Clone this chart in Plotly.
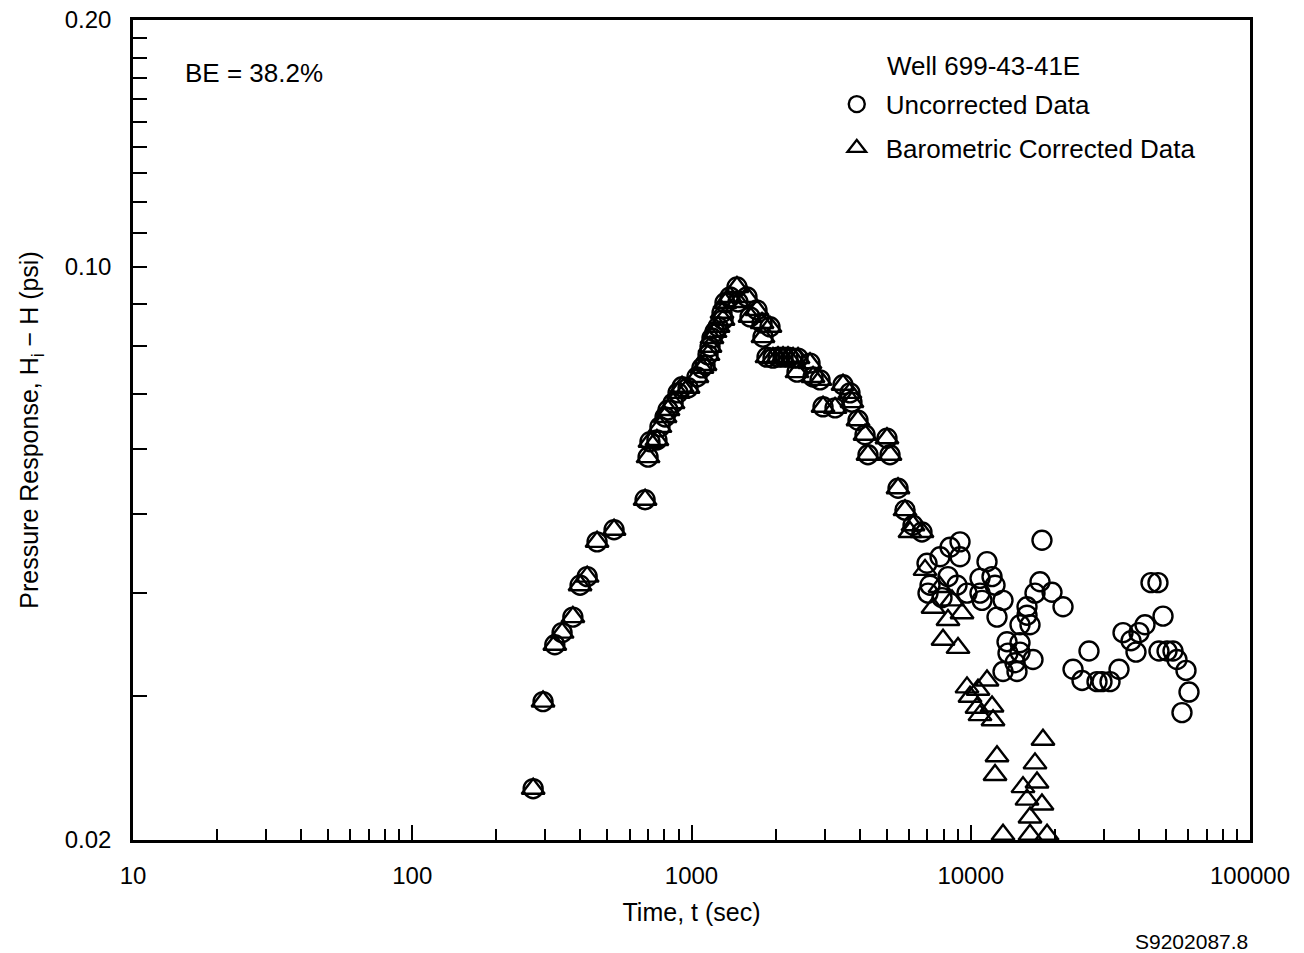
import plotly.graph_objects as go

# Shared early-time response (both series coincide before ~7000 s)
t_early = [271, 294, 324, 344, 376, 399, 423, 459, 528, 682,
           699, 710, 752, 771, 804, 824, 859, 895, 925, 972,
           1046, 1090, 1118, 1146, 1165, 1184, 1214, 1245, 1286, 1297,
           1318, 1374, 1455, 1467, 1580, 1620, 1716, 1789, 1803, 1864,
           1910, 1958, 2041, 2127, 2216, 2310, 2387, 2407, 2657, 2724,
           2885, 2958, 3266, 3488, 3694, 3755, 3947, 4182, 4286, 5012,
           5139, 5490, 5815, 6212, 6689]
p_early = [0.0231, 0.0295, 0.0346, 0.0358, 0.0374, 0.0409, 0.0419, 0.0462, 0.0478, 0.0520,
           0.0586, 0.0612, 0.0615, 0.0638, 0.0656, 0.0669, 0.0682, 0.0702, 0.0714, 0.0712,
           0.0734, 0.0753, 0.0759, 0.0781, 0.0799, 0.0819, 0.0833, 0.0845, 0.0879, 0.0862,
           0.0904, 0.0919, 0.0945, 0.0906, 0.0919, 0.0869, 0.0886, 0.0854, 0.0821, 0.0776,
           0.0845, 0.0774, 0.0776, 0.0776, 0.0776, 0.0774, 0.0744, 0.0774, 0.0763, 0.0734,
           0.0728, 0.0675, 0.0673, 0.0718, 0.0702, 0.0684, 0.0650, 0.0624, 0.0590, 0.0618,
           0.0590, 0.0537, 0.0505, 0.0484, 0.0475]

# Late-time uncorrected data
t_unc_late = [6973, 7030, 7147, 7762, 7891, 8289, 8427, 8930, 9153, 9153,
              9696, 10793, 10793, 10973, 11435, 11917, 12217, 12417, 13048, 13048,
              13485, 13597, 14404, 14643, 15010, 15010, 15010, 15901, 15901, 16300,
              16709, 16985, 17700, 17990, 19540, 21400, 23240, 25030, 26510, 28320,
              29510, 31530, 33960, 35100, 37490, 39060, 40040, 42070, 44210, 46820,
              47210, 48810, 50460, 53000, 54770, 57070, 58990, 60470]
p_unc_late = [0.0435, 0.0400, 0.0409, 0.0443, 0.0395, 0.0419, 0.0455, 0.0409, 0.0462, 0.0443,
              0.0400, 0.0400, 0.0417, 0.0392, 0.0437, 0.0419, 0.0409, 0.0374, 0.0392, 0.0321,
              0.0349, 0.0338, 0.0329, 0.0321, 0.0366, 0.0348, 0.0339, 0.0385, 0.0376, 0.0366,
              0.0332, 0.0400, 0.0413, 0.0464, 0.0401, 0.0385, 0.0323, 0.0313, 0.0340, 0.0312,
              0.0312, 0.0312, 0.0323, 0.0358, 0.0350, 0.0339, 0.0358, 0.0366, 0.0412, 0.0412,
              0.0340, 0.0375, 0.0340, 0.0340, 0.0332, 0.0286, 0.0322, 0.0303]

# Late-time barometric corrected data
t_cor_late = [6060, 6859, 7326, 7762, 7956, 8289, 8568, 9003, 9306, 9696,
              9938, 10530, 10617, 10793, 11435, 11917, 12016, 12217, 12417, 13048,
              15386, 15901, 16300, 16300, 16985, 17270, 17990, 18140, 18760]
p_cor_late = [0.0475, 0.0427, 0.0384, 0.0407, 0.0351, 0.0371, 0.0392, 0.0343, 0.0378, 0.0307,
              0.0299, 0.0290, 0.0305, 0.0284, 0.0313, 0.0291, 0.0280, 0.0240, 0.0253, 0.0203,
              0.0232, 0.0224, 0.0213, 0.0203, 0.0248, 0.0235, 0.0221, 0.0265, 0.0203]

x_major = [10, 100, 1000, 10000, 100000]
x_minor = [m * 10 ** k for k in range(1, 5) for m in range(2, 10)]
y_major = [0.02, 0.10, 0.20]
y_major_text = ["0.02", "0.10", "0.20"]
y_minor = [round(0.01 * k, 2) for k in range(3, 20) if k != 10]

FONT = "Liberation Sans, Arial, Helvetica, sans-serif"
INK = "black"

fig = go.Figure()
fig.add_trace(go.Scatter(
    x=t_early + t_unc_late, y=p_early + p_unc_late, mode="markers",
    name="Uncorrected Data", legendgroup="unc",
    marker=dict(symbol="circle-open", size=19, color=INK, line=dict(width=2.4, color=INK)),
))
fig.add_trace(go.Scatter(
    x=t_early + t_cor_late, y=p_early + p_cor_late, mode="markers",
    name="Barometric Corrected Data", legendgroup="cor",
    marker=dict(symbol="triangle-up-open", size=20, color=INK, line=dict(width=2.4, color=INK)),
))

axis_common = dict(
    showgrid=False, zeroline=False, showline=True, linecolor=INK, linewidth=2.5,
    mirror=True, ticks="inside", tickcolor=INK, tickwidth=2,
    tickfont=dict(family=FONT, size=24, color=INK),
)

fig.update_xaxes(
    type="log", range=[1, 5], tickmode="array", tickvals=x_major,
    ticktext=[str(v) for v in x_major], ticklen=15, ticklabelstandoff=12,
    minor=dict(tickmode="array", tickvals=x_minor, ticks="inside", ticklen=11,
               tickwidth=2, tickcolor=INK),
    title=dict(text="Time, t (sec)", font=dict(family=FONT, size=25, color=INK), standoff=16),
    **axis_common,
)
fig.update_yaxes(
    type="log", range=[-1.69897, -0.69897], tickmode="array", tickvals=y_major,
    ticktext=y_major_text, ticklen=14, ticklabelstandoff=14,
    minor=dict(tickmode="array", tickvals=y_minor, ticks="inside", ticklen=14,
               tickwidth=2, tickcolor=INK),
    title=dict(text="Pressure Response, H<sub>i</sub> − H (psi)",
               font=dict(family=FONT, size=25, color=INK), standoff=19),
    **axis_common,
)

fig.update_layout(
    width=1304, height=953,
    margin=dict(l=133, r=54, t=20, b=113, autoexpand=False),
    paper_bgcolor="white", plot_bgcolor="white",
    font=dict(family=FONT, size=24, color=INK),
    showlegend=True,
    legend=dict(x=0.622, y=0.926, xanchor="left", yanchor="top", itemwidth=48,
                bgcolor="rgba(0,0,0,0)", borderwidth=0, tracegroupgap=7,
                font=dict(family=FONT, size=26, color=INK)),
    annotations=[
        dict(text="BE = 38.2%", x=0.0448, y=0.935, xref="paper", yref="paper",
             xanchor="left", yanchor="middle", showarrow=False,
             font=dict(family=FONT, size=26, color=INK)),
        dict(text="Well 699-43-41E", x=0.673, y=0.944, xref="paper", yref="paper",
             xanchor="left", yanchor="middle", showarrow=False,
             font=dict(family=FONT, size=26, color=INK)),
        dict(text="S9202087.8", x=1.0, y=-0.124, xref="paper", yref="paper",
             xanchor="right", yanchor="middle", showarrow=False,
             font=dict(family=FONT, size=21, color=INK)),
    ],
)

fig.write_html("out.html")
